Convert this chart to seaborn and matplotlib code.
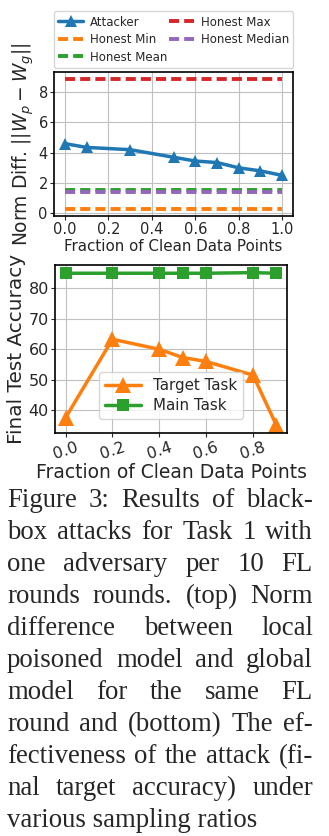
import numpy as np
import pandas as pd
import matplotlib
matplotlib.use("Agg")
import matplotlib.pyplot as plt
import seaborn as sns

# ---- data ----
top_x = [0.0, 0.1, 0.3, 0.5, 0.6, 0.7, 0.8, 0.9, 1.0]
attacker = [4.6, 4.35, 4.2, 3.7, 3.45, 3.35, 3.0, 2.8, 2.5]
honest_max = 8.9
honest_min = 0.25
honest_mean = 1.53
honest_median = 1.40

bot_x = [0.0, 0.2, 0.4, 0.5, 0.6, 0.8, 0.9]
target_task = [37.5, 63.3, 60.0, 57.3, 56.0, 51.5, 35.0]
main_task = [85.0, 85.0, 85.0, 85.0, 85.0, 85.2, 85.0]

caption_lines = [
    "Figure 3: Results of black-",
    "box attacks for Task 1 with",
    "one adversary per 10 FL",
    "rounds rounds. (top) Norm",
    "difference between local",
    "poisoned model and global",
    "model for the same FL",
    "round and (bottom) The ef-",
    "fectiveness of the attack (fi-",
    "nal target accuracy) under",
    "various sampling ratios",
]

sns.set_style("ticks")
plt.rcParams["font.family"] = ["DejaVu Sans"]
plt.rcParams["mathtext.fontset"] = "dejavusans"

W, H = 329, 836
fig = plt.figure(figsize=(W / 100, H / 100), dpi=100)
fig.patch.set_facecolor("white")

def ax_rect(l, t, r, b):
    return [l / W, (H - b) / H, (r - l) / W, (b - t) / H]

pal = sns.color_palette("tab10")
GRID = "#c0c0c0"

# ---- top plot ----
ax1 = fig.add_axes(ax_rect(54, 72, 293, 216))
df_top = pd.DataFrame({"x": top_x, "Attacker": attacker})
sns.lineplot(data=df_top, x="x", y="Attacker", ax=ax1, color=pal[0], marker="^",
             markersize=9, markeredgewidth=0, linewidth=2.5, label="Attacker")
for name, val, c in [("Honest Min", honest_min, pal[1]), ("Honest Mean", honest_mean, pal[2]),
                     ("Honest Max", honest_max, pal[3]), ("Honest Median", honest_median, pal[4])]:
    d = pd.DataFrame({"x": top_x, "y": [val] * len(top_x)})
    sns.lineplot(data=d, x="x", y="y", ax=ax1, color=c, linestyle=(0, (2.6, 1.3)),
                 linewidth=2.8, label=name)
ax1.set_xticks([0.0, 0.2, 0.4, 0.6, 0.8, 1.0])
ax1.set_yticks([0, 2, 4, 6, 8])
ax1.grid(True, color=GRID, linewidth=0.8)
ax1.set_xlabel("Fraction of Clean Data Points", fontsize=10.9, labelpad=1)
ax1.set_ylabel(r"Norm Diff. $||W_p - W_g||$", fontsize=13.4, labelpad=2)
ax1.tick_params(labelsize=10.5, length=3, pad=1.5)
handles, labels = ax1.get_legend_handles_labels()
order = ["Attacker", "Honest Min", "Honest Mean", "Honest Max", "Honest Median"]
hmap = dict(zip(labels, handles))
ax1.legend([hmap[o] for o in order], order, loc="lower left",
           bbox_to_anchor=(0, 1.03, 1.0, 0.38), mode="expand", ncol=2,
           fontsize=8.5, handlelength=2.1, handletextpad=0.6, columnspacing=0.2,
           borderaxespad=0, labelspacing=0.38, frameon=True, borderpad=0.35)
for s in ax1.spines.values():
    s.set_color("black")
    s.set_linewidth(1.2)

# ---- bottom plot ----
ax2 = fig.add_axes(ax_rect(55, 265, 287, 433))
df_b = pd.DataFrame({"x": bot_x, "Target Task": target_task, "Main Task": main_task})
sns.lineplot(data=df_b, x="x", y="Target Task", ax=ax2, color=pal[1], marker="^",
             markersize=11, markeredgewidth=0, linewidth=2.5, label="Target Task")
sns.lineplot(data=df_b, x="x", y="Main Task", ax=ax2, color=pal[2], marker="s",
             markersize=9, markeredgewidth=0, linewidth=2.5, label="Main Task")
ax2.set_xticks([0.0, 0.2, 0.4, 0.6, 0.8])
ax2.set_yticks([40, 50, 60, 70, 80])
ax2.grid(True, color=GRID, linewidth=0.8)
ax2.set_xlabel("Fraction of Clean Data Points", fontsize=13.5, labelpad=1)
ax2.set_ylabel("Final Test Accuracy", fontsize=14.4, labelpad=2)
ax2.tick_params(labelsize=11.5, length=3, pad=1.5)
for lab in ax2.get_xticklabels():
    lab.set_rotation(18)
ax2.legend(loc="lower center", bbox_to_anchor=(0.5, 0.04), fontsize=10.8,
           handlelength=2.4, handletextpad=0.8, labelspacing=0.3)
for s in ax2.spines.values():
    s.set_color("black")
    s.set_linewidth(1.2)

# ---- caption (justified) ----
fig.canvas.draw()
renderer = fig.canvas.get_renderer()
left_px, right_px = 7, 313
cap_fs = 19.3
base0 = 507
step = 32.0
for i, line in enumerate(caption_lines):
    y = (H - (base0 + i * step)) / H
    words = line.split(" ")
    if i == len(caption_lines) - 1:
        fig.text(left_px / W, y, " ".join(words), fontsize=cap_fs, family="Liberation Serif",
                 va="baseline", ha="left")
        continue
    tobjs = [fig.text(0, y, w, fontsize=cap_fs, family="Liberation Serif", va="baseline", ha="left")
             for w in words]
    widths = [t.get_window_extent(renderer).width for t in tobjs]
    total = sum(widths)
    gap = (right_px - left_px - total) / max(len(words) - 1, 1)
    x = left_px
    for t, wd in zip(tobjs, widths):
        t.set_x(x / W)
        x += wd + gap

fig.savefig("out.png", dpi=100, facecolor="white")
